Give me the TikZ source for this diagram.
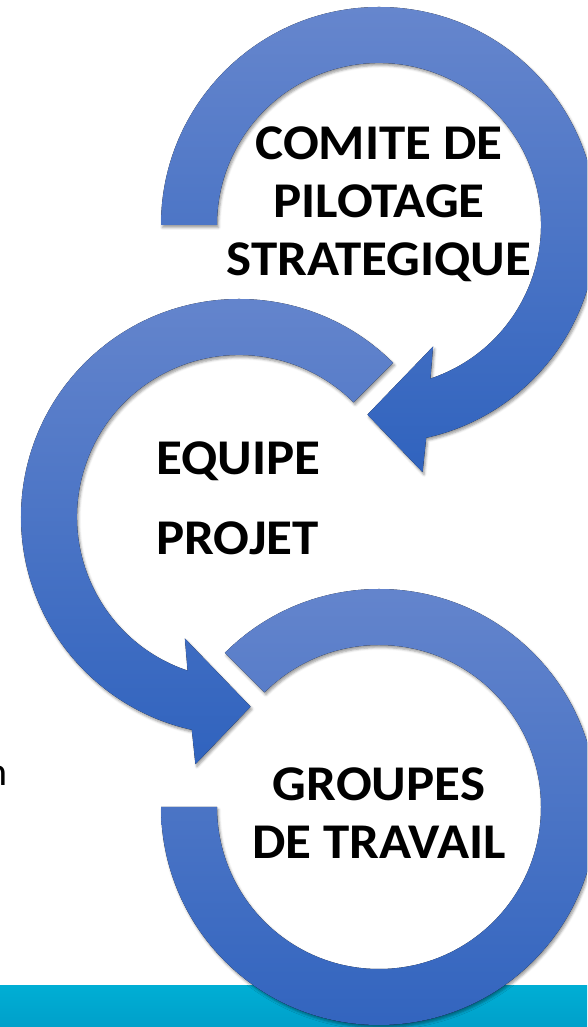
\documentclass[tikz,border=0pt]{standalone}
\usepackage{fontspec}
\setmainfont{Carlito}
\newfontfamily\stagefont{Carlito}[FakeStretch=1.06]
\usepackage{tikz}
\usetikzlibrary{calc, positioning, shadows.blur}

\definecolor{ringtop}{RGB}{102,134,205}
\definecolor{ringbot}{RGB}{48,99,190}
\definecolor{bandtop}{RGB}{0,174,212}
\definecolor{bandbot}{RGB}{0,160,202}

\tikzset{
  ring/.style={top color=ringtop, bottom color=ringbot,
    blur shadow={shadow xshift=1.5pt, shadow yshift=-2.5pt, shadow blur radius=2.5pt, shadow opacity=40}},
  band/.style={top color=bandtop, bottom color=bandbot},
  stage/.style={font=\stagefont\bfseries\fontsize{50}{58}\selectfont, text=black, inner sep=0pt, align=center}
}

\begin{document}
\begin{tikzpicture}[x=1pt, y=1pt]
          \useasboundingbox (0,0) rectangle (587,1027);
          \clip (0,0) rectangle (587,1027);
          % Centres of the three rings
          \coordinate (c1) at (379,802);
          \coordinate (c2) at (239,510);
          \coordinate (c3) at (379,220);
          % Bottom band
          \fill[band] (0,0) rectangle (587,41);
          % Ring 1, arrow into ring 2
          \fill[ring] (c1) ++(180:218) arc[start angle=180, end angle=-77.5, radius=218pt]
            -- ($(c1)+(-80:251)$) -- ($(c1)+(-93.5:190)$) -- ($(c1)+(-66:133)$)
            -- ($(c1)+(-71.5:162)$) arc[start angle=-71.5, end angle=180, radius=162pt] -- cycle;
          % Ring 2, arrow into ring 3
          \fill[ring] (c2) ++(45:218) arc[start angle=45, end angle=257.5, radius=218pt]
            -- ($(c2)+(260:251)$) -- ($(c2)+(273.5:190)$) -- ($(c2)+(246:133)$)
            -- ($(c2)+(251.5:162)$) arc[start angle=251.5, end angle=45, radius=162pt] -- cycle;
          % Ring 3
          \fill[ring] (c3) ++(135:218) arc[start angle=135, end angle=-180, radius=218pt]
            -- ($(c3)+(180:162)$) arc[start angle=-180, end angle=135, radius=162pt] -- cycle;
          % Labels
          \node[stage, anchor=north] (comite) at (379,900) {COMITE DE\\PILOTAGE\\STRATEGIQUE};
          \node[stage, anchor=north west, align=left, font=\stagefont\bfseries\fontsize{50}{80}\selectfont]
            (equipe) at (156,585) {EQUIPE\\PROJET};
          \node[stage, anchor=north] (groupes) at (379,259) {GROUPES\\DE TRAVAIL};
          \node[anchor=base east, inner sep=0pt, font=\fontsize{40}{48}\selectfont] (cut) at (7.5,241) {n};
\end{tikzpicture}
\end{document}
